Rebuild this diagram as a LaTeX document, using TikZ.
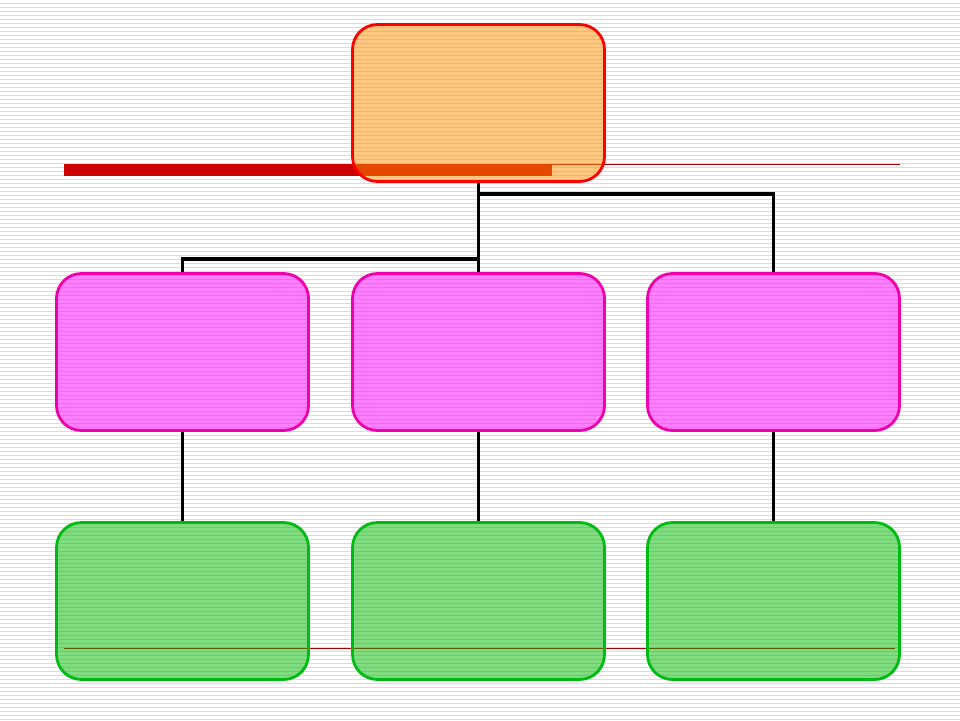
\documentclass[tikz,border=0pt]{standalone}
\usetikzlibrary{calc}
\definecolor{stripe}{HTML}{DCDCDC}
\definecolor{topfill}{HTML}{FF9100}
\definecolor{midfill}{HTML}{FF00FF}
\definecolor{midline}{HTML}{EE00AA}
\definecolor{botfill}{HTML}{00BB00}
\definecolor{botline}{HTML}{00BB11}
\definecolor{barred}{HTML}{CC0000}
\definecolor{thinred}{HTML}{B00000}
\tikzset{
  box/.style={rounded corners=25pt, minimum width=252pt, minimum height=157pt, line width=2.8pt, fill opacity=0.5, draw opacity=1, inner sep=0pt},
  topbox/.style={box, draw=red, fill=topfill},
  midbox/.style={box, draw=midline, fill=midfill},
  botbox/.style={box, draw=botline, fill=botfill},
  conn/.style={draw=black, line width=3.6pt}
}
\begin{document}
\begin{tikzpicture}[x=1pt,y=-1pt]
\useasboundingbox (0,0) rectangle (960,720);
\fill[white] (0,0) rectangle (960,720);
\foreach \k in {0,...,179} {
  \draw[stripe, line width=1.3pt] (0,3.3+4*\k) -- (960,3.3+4*\k);
}
\draw[thinred, line width=0.8pt] (64,164) -- (900,164);
\draw[thinred, line width=0.8pt] (64,648) -- (895,648);
\fill[barred] (64,164) rectangle (552,176);
\node[topbox] (top) at (478.5,103) {};
\node[midbox] (m1) at (182.5,352) {};
\node[midbox] (m2) at (478.5,352) {};
\node[midbox] (m3) at (773.5,352) {};
\node[botbox] (b1) at (182.5,601) {};
\node[botbox] (b2) at (478.5,601) {};
\node[botbox] (b3) at (773.5,601) {};
\coordinate (j1) at (478.5,194);
\coordinate (j2) at (478.5,259);
\draw[conn] (top.south) -- (m2.north);
\draw[conn] (j1) -| (m3.north);
\draw[conn] (j2) -| (m1.north);
\draw[conn] (m1.south) -- (b1.north);
\draw[conn] (m2.south) -- (b2.north);
\draw[conn] (m3.south) -- (b3.north);
\end{tikzpicture}
\end{document}
